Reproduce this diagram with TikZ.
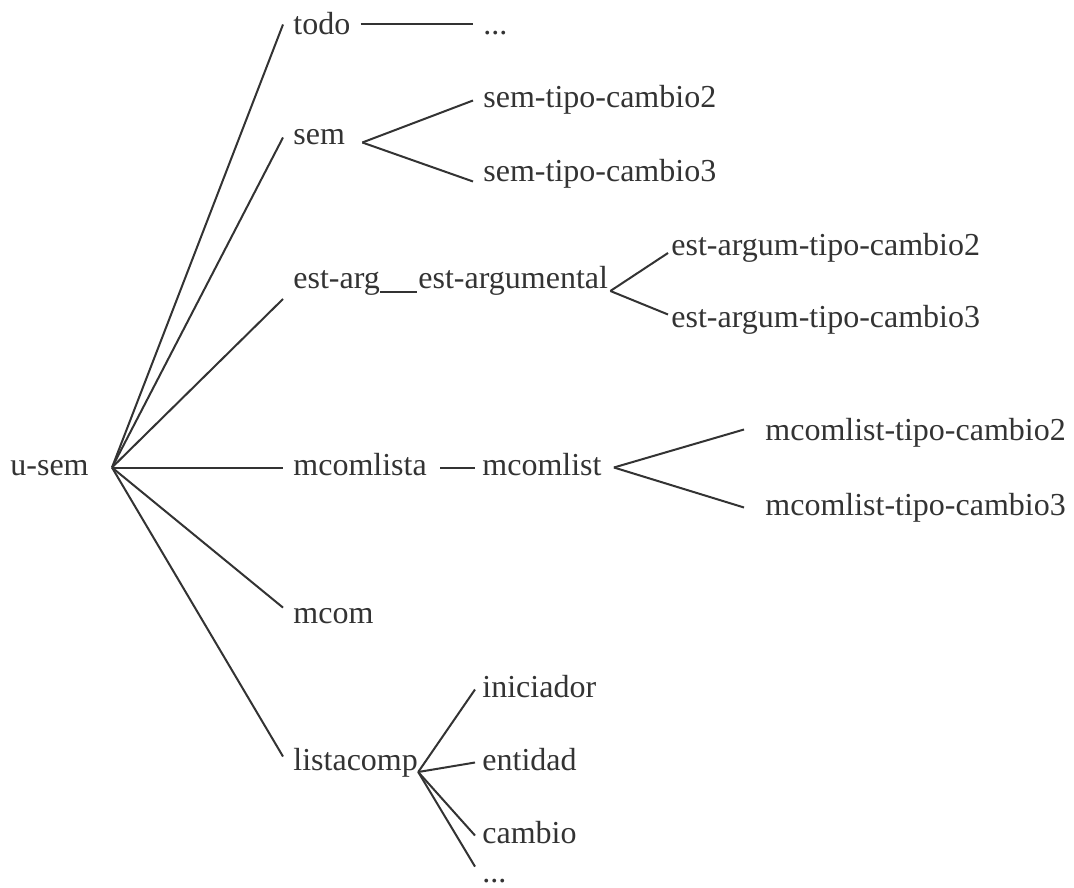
\documentclass[tikz,border=0pt]{standalone}
\usepackage{fontspec}
\setmainfont{Liberation Serif}
\tikzstyle{word} = [anchor=base west, inner xsep=5pt, inner ysep=0pt, text height=0.75em, text depth=0pt, text=black!80]
\tikzstyle{branch} = [line width=1pt, draw=black!80]
\tikzset{
  font={\fontsize{16pt}{19pt}\selectfont}}

\begin{document}
\begin{tikzpicture}[x=0.5pt, y=-0.5pt]
    \useasboundingbox (0,0) rectangle (1074,887);

    % root and first level
    \node (usem) [word] at (0,475) {u-sem};
    \node (todo) [word] at (283,35) {todo};
    \node (sem) [word] at (283,145) {sem};
    \node (estarg) [word] at (283,289) {est-arg};
    \node (mcomlista) [word] at (283,475) {mcomlista};
    \node (mcom) [word] at (283,623) {mcom};
    \node (listacomp) [word] at (283,770) {listacomp};

    % second level
    \node (todomore) [word] at (473,35) {...};
    \node (semtc2) [word] at (473,108) {sem-tipo-cambio2};
    \node (semtc3) [word] at (473,182) {sem-tipo-cambio3};
    \node (estargumental) [word] at (408,289) {est-argumental};
    \node (mcomlist) [word] at (472,475) {mcomlist};
    \node (iniciador) [word] at (472,697) {iniciador};
    \node (entidad) [word] at (472,770) {entidad};
    \node (cambio) [word] at (472,843) {cambio};
    \node (compmore) [word] at (472,882) {...};

    % third level
    \node (esttc2) [word] at (661,256) {est-argum-tipo-cambio2};
    \node (esttc3) [word] at (661,328) {est-argum-tipo-cambio3};
    \node (mcomtc2) [word] at (755,440) {mcomlist-tipo-cambio2};
    \node (mcomtc3) [word] at (755,515) {mcomlist-tipo-cambio3};

    \coordinate (root) at ([xshift=6.5pt]usem.east);

    \draw [branch] (root) -- ([yshift=1.5pt]todo.west);
    \draw [branch] (root) -- (sem.west);
    \draw [branch] (root) -- ([yshift=-5pt]estarg.base west);
    \draw [branch] (root) -- (mcomlista.west);
    \draw [branch] (root) -- (mcom.north west);
    \draw [branch] (root) -- ([yshift=3pt]listacomp.west);

    \draw [branch] ([yshift=1.5pt]todo.east) -- ([yshift=1.5pt]todomore.west);
    \draw [branch] ([xshift=3.5pt, yshift=-2.5pt]sem.east) -- (semtc2.west);
    \draw [branch] ([xshift=3.5pt, yshift=-2.5pt]sem.east) -- ([yshift=-3.5pt]semtc3.west);

    \draw [branch] ([xshift=-5pt, yshift=-1.5pt]estarg.base east) -- ([xshift=4.5pt, yshift=-1.5pt]estargumental.base west);
    \draw [branch] ([xshift=-4pt, yshift=-1pt]estargumental.base east) -- ([xshift=3.5pt, yshift=1.5pt]esttc2.base west);
    \draw [branch] ([xshift=-4pt, yshift=-1pt]estargumental.base east) -- ([xshift=3.5pt, yshift=3pt]esttc3.west);

    \draw [branch] ([xshift=1.5pt]mcomlista.east) -- ([xshift=1.5pt]mcomlist.west);
    \draw [branch] ([xshift=1pt]mcomlist.east) -- ([xshift=-5.5pt, yshift=1.5pt]mcomtc2.west);
    \draw [branch] ([xshift=1pt]mcomlist.east) -- ([xshift=-5.5pt]mcomtc3.west);

    \draw [branch] ([xshift=-5pt, yshift=-1pt]listacomp.base east) -- ([xshift=1.5pt]iniciador.west);
    \draw [branch] ([xshift=-5pt, yshift=-1pt]listacomp.base east) -- ([xshift=1.5pt]entidad.west);
    \draw [branch] ([xshift=-5pt, yshift=-1pt]listacomp.base east) -- ([xshift=1.5pt]cambio.west);
    \draw [branch] ([xshift=-5pt, yshift=-1pt]listacomp.base east) -- ([xshift=1.5pt]compmore.north west);
\end{tikzpicture}
\end{document}
